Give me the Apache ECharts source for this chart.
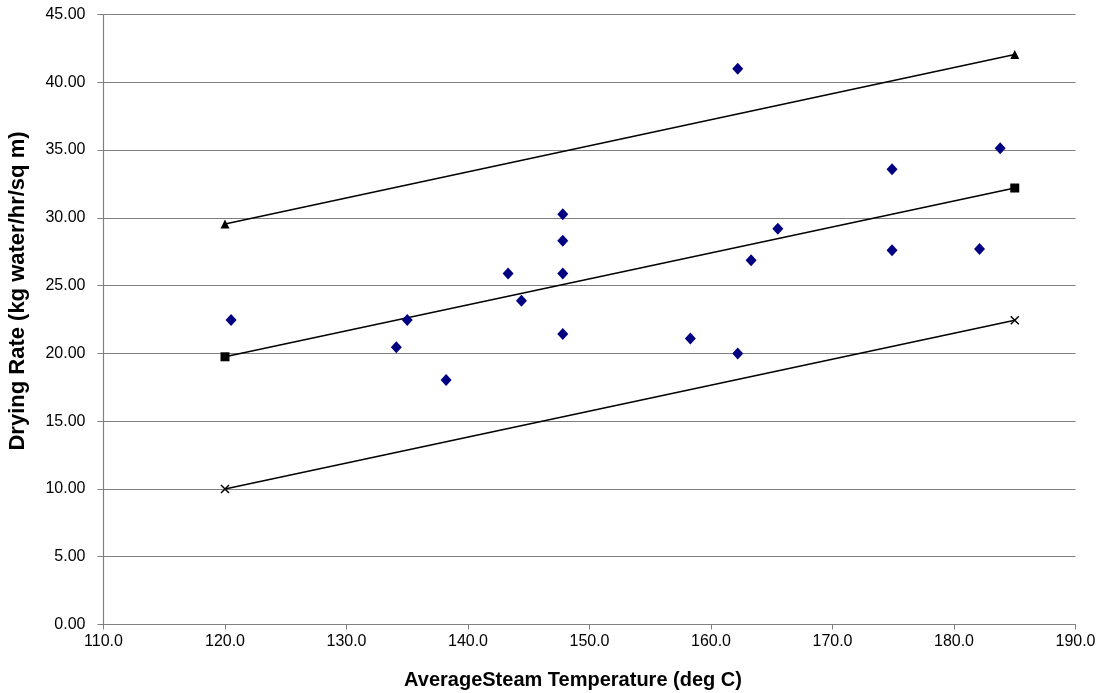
<!DOCTYPE html>
<html>
<head>
<meta charset="utf-8">
<script src="https://cdn.jsdelivr.net/npm/echarts@6/dist/echarts.min.js"></script>
<style>
html,body{margin:0;padding:0;background:#fff;}
#chart{width:1105px;height:693px;}
</style>
</head>
<body>
<div id="chart"></div>
<script>
// Measured data (deg C, kg water/hr/sq m)
var steamTemps = [120.5, 134.1, 135.0, 138.2, 143.3, 144.4, 147.8, 147.8, 147.8, 147.8,
                  158.3, 162.2, 162.2, 163.3, 165.5, 174.9, 174.9, 182.1, 183.8];
var dryingRates = [22.46, 20.45, 22.46, 18.04, 25.9, 23.89, 30.26, 28.31, 25.9, 21.43,
                   21.1, 41.0, 20.0, 26.87, 29.2, 33.58, 27.6, 27.7, 35.13];
var lineTemps = [120, 185];
var upperLine = [29.55, 42.05];
var middleLine = [19.75, 32.2];
var lowerLine = [10.0, 22.45];
var xTicks = {min: 110, max: 190, step: 10};
var yTicks = {min: 0, max: 45, step: 5};
var xTitle = 'AverageSteam Temperature (deg C)';
var yTitle = 'Drying Rate (kg water/hr/sq m)';

function pairs(xs, ys){ return xs.map(function(x,i){ return [x, ys[i]]; }); }

var font = 'Liberation Sans, Arial, sans-serif';
var chart = echarts.init(document.getElementById('chart'), null, {renderer:'canvas'});
var lineStyle = {color:'#000', width:1.5};
chart.setOption({
  animation:false,
  backgroundColor:'#fff',
  grid:{left:103.5, top:14.5, right:29.5, bottom:68.5, containLabel:false, outerBoundsMode:'none'},
  graphic:[
    {type:'text', x:573, y:680, style:{text:xTitle, font:'bold 20px ' + font, fill:'#000',
      align:'center', verticalAlign:'middle'}},
    {type:'text', x:18, y:291, rotation:Math.PI/2, style:{text:yTitle, font:'bold 22px ' + font, fill:'#000',
      align:'center', verticalAlign:'middle'}}
  ],
  xAxis:{
    type:'value', min:xTicks.min, max:xTicks.max, interval:xTicks.step,
    axisLine:{show:true, lineStyle:{color:'#808080', width:1.2}},
    axisTick:{show:true, length:5, lineStyle:{color:'#808080'}},
    axisLabel:{fontFamily:font, fontSize:16, color:'#000', margin:9,
      formatter:function(v){ return v.toFixed(1); }},
    splitLine:{show:false}
  },
  yAxis:{
    type:'value', min:yTicks.min, max:yTicks.max, interval:yTicks.step,
    axisLine:{show:true, lineStyle:{color:'#808080', width:1.2}},
    axisTick:{show:true, length:6, inside:false, lineStyle:{color:'#808080'}},
    axisLabel:{fontFamily:font, fontSize:16, color:'#000', margin:18,
      formatter:function(v){ return v.toFixed(2); }},
    splitLine:{show:true, lineStyle:{color:'#808080', width:1.2}}
  },
  series:[
    {type:'scatter', data:pairs(steamTemps, dryingRates), symbol:'diamond', symbolSize:[11,12],
     itemStyle:{color:'#000080', opacity:1}, z:5},
    {type:'line', data:pairs(lineTemps, upperLine), symbol:'triangle', symbolSize:9,
     showSymbol:true, itemStyle:{color:'#000'}, lineStyle:lineStyle},
    {type:'line', data:pairs(lineTemps, middleLine), symbol:'rect', symbolSize:9,
     showSymbol:true, itemStyle:{color:'#000'}, lineStyle:lineStyle},
    {type:'line', data:pairs(lineTemps, lowerLine), symbol:'path://M0,0L10,10M10,0L0,10', symbolSize:8,
     showSymbol:true, itemStyle:{color:'rgba(0,0,0,0)', borderColor:'#000', borderWidth:1.5}, lineStyle:lineStyle}
  ]
});
</script>
</body>
</html>
